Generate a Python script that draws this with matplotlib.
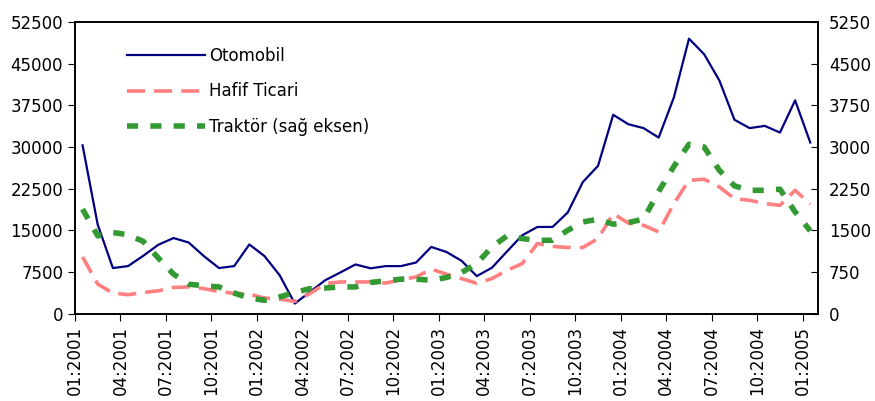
import numpy as np
import matplotlib
matplotlib.use("Agg")
import matplotlib.pyplot as plt

# monthly data, 01:2001 .. 01:2005
months = [f"{m:02d}:{y}" for y in range(2001, 2006) for m in range(1, 13)][:49]

otomobil = [30300, 16000, 8200, 8550, 10400, 12400, 13600, 12800, 10350, 8200,
            8550, 12450, 10350, 6900, 1800, 3900, 6000, 7400, 8850, 8150,
            8550, 8550, 9200, 12000, 11100, 9500, 6750, 8250, 11200, 14100,
            15600, 15600, 18200, 23700, 26600, 35800, 34100, 33400, 31700, 38900,
            49500, 46700, 42000, 34900, 33400, 33800, 32600, 38400, 30800]

hafif_ticari = [10200, 5300, 3700, 3400, 3800, 4100, 4700, 4800, 4500, 3950,
                3650, 3500, 2800, 2600, 2200, 3600, 5400, 5700, 5700, 5700,
                5500, 6100, 6600, 8000, 7100, 6300, 5450, 6300, 7800, 9000,
                12600, 12100, 11900, 11900, 13500, 18000, 16300, 15900, 14700, 19800,
                24000, 24200, 22800, 20700, 20400, 19800, 19500, 22200, 19700]

traktor = [1880, 1400, 1460, 1420, 1300, 1000, 710, 530, 500, 480,
           370, 280, 240, 300, 380, 450, 460, 480, 480, 560,
           590, 620, 620, 600, 650, 740, 900, 1200, 1400, 1350,
           1320, 1320, 1500, 1650, 1700, 1610, 1640, 1700, 2200, 2650,
           3050, 3000, 2580, 2300, 2220, 2220, 2240, 1830, 1490]

x = np.arange(len(months)) + 0.5

fig = plt.figure(figsize=(8.75, 4.01), dpi=100)
ax = fig.add_axes([0.0857, 0.218, 0.849, 0.727])
ax2 = ax.twinx()

l1, = ax.plot(x, otomobil, color="#000080", lw=1.6, label="Otomobil")
l2, = ax.plot(x, hafif_ticari, color="#ff8080", lw=2.6, dashes=(5, 2.5), label="Hafif Ticari")
l3, = ax2.plot(x, traktor, color="#339933", lw=4, dashes=(2, 2.2), label="Traktör (sağ eksen)")

ax.set_xlim(0, len(months))
ax.set_ylim(0, 52500)
ax2.set_ylim(0, 5250)
ax.set_yticks(np.arange(0, 52501, 7500))
ax2.set_yticks(np.arange(0, 5251, 750))

ticks = np.arange(0, len(months), 3)
ax.set_xticks(ticks)
ax.set_xticklabels([months[i] for i in ticks], rotation=90, fontsize=12)

ax.tick_params(axis="y", direction="out", length=5, labelsize=12)
ax.tick_params(axis="x", direction="out", length=5, pad=4)
ax2.tick_params(axis="y", direction="in", length=5, labelsize=12, pad=8)

for a in (ax, ax2):
    for s in a.spines.values():
        s.set_linewidth(1.2)

ax.legend(handles=[l1, l2, l3], loc="upper left", bbox_to_anchor=(0.07, 0.915),
          frameon=False, fontsize=12, handlelength=4.7, labelspacing=1.05,
          borderpad=0, borderaxespad=0, handletextpad=0.2)

fig.savefig("out.png", dpi=100)
